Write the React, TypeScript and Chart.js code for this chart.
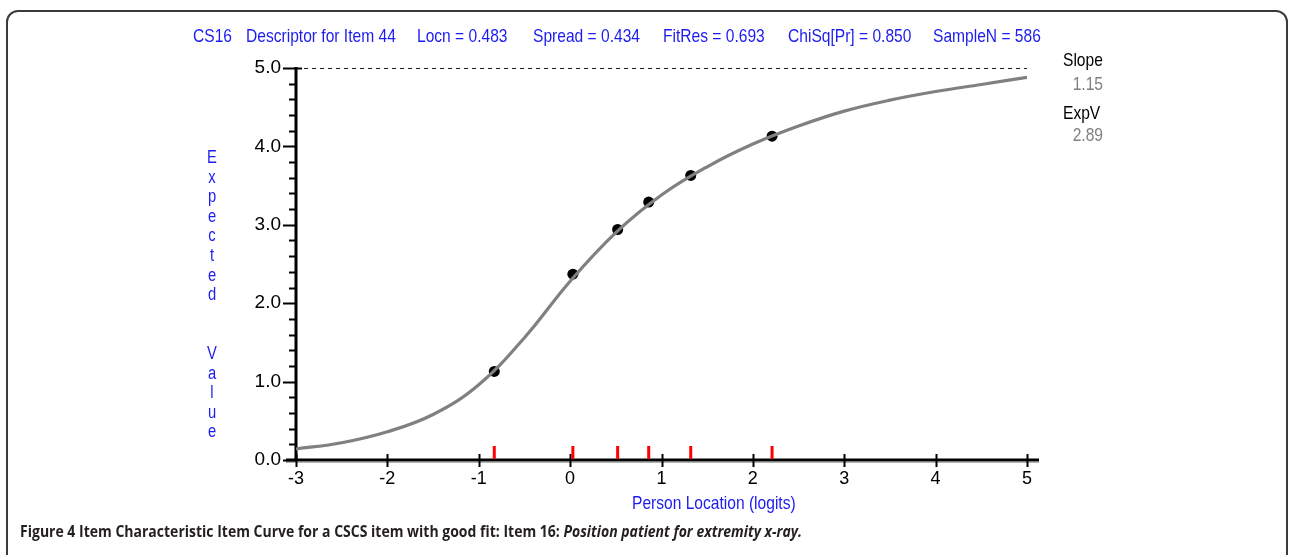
import React, { useEffect, useRef } from "react";
import { Chart, registerables } from "chart.js";

Chart.register(...registerables);

// ---- data ----
const curveX = [-3, -2.5, -2, -1.5, -1, -0.5, 0, 0.5, 1, 1.5, 2, 2.5, 3, 3.5, 4, 4.5, 5];
const curveY = [0.14, 0.22, 0.36, 0.58, 0.96, 1.56, 2.28, 2.9, 3.38, 3.74, 4.03, 4.26, 4.45, 4.59, 4.7, 4.79, 4.88];

const obsX = [-0.83, 0.03, 0.52, 0.86, 1.32, 2.21];
const obsY = [1.13, 2.37, 2.94, 3.29, 3.63, 4.13];

const xTicks = [-3, -2, -1, 0, 1, 2, 3, 4, 5];
const yMajorTicks = [0, 1, 2, 3, 4, 5];
const yMinorTicks = [0.2, 0.4, 0.6, 0.8, 1.2, 1.4, 1.6, 1.8, 2.2, 2.4, 2.6, 2.8, 3.2, 3.4, 3.6, 3.8, 4.2, 4.4, 4.6, 4.8];
const maxScore = 5;

const titleParts = [
  "CS16",
  "Descriptor for Item 44",
  "Locn = 0.483",
  "Spread = 0.434",
  "FitRes = 0.693",
  "ChiSq[Pr] = 0.850",
  "SampleN = 586",
];
const titleLefts = [193, 246, 417, 533, 663, 788, 933];

const yTitle = "Expected  Value";
const xTitle = "Person Location (logits)";
const slopeLabel = "Slope";
const slopeValue = "1.15";
const expLabel = "ExpV";
const expValue = "2.89";

const NARROW = "'Liberation Sans Narrow', 'Arial Narrow', 'Liberation Sans', sans-serif";
const BLUE = "#1c1cf0";
const SQUEEZE = 0.82;

const axesPlugin = {
  id: "rummAxes",
  beforeDatasetsDraw(chart: any) {
    const { ctx, chartArea, scales } = chart;
    const x = scales.x;
    const y = scales.y;
    ctx.save();
    ctx.strokeStyle = "#b0b0b0";
    ctx.lineWidth = 1;
    ctx.beginPath();
    ctx.moveTo(chartArea.left - 10, chartArea.bottom + 2.5);
    ctx.lineTo(chartArea.right + 12, chartArea.bottom + 2.5);
    ctx.stroke();
    ctx.strokeStyle = "#000";
    ctx.lineWidth = 3;
    ctx.beginPath();
    ctx.moveTo(chartArea.left - 10, chartArea.bottom);
    ctx.lineTo(chartArea.right + 12, chartArea.bottom);
    ctx.stroke();
    ctx.beginPath();
    ctx.moveTo(chartArea.left, chartArea.bottom);
    ctx.lineTo(chartArea.left, y.getPixelForValue(maxScore) - 1);
    ctx.stroke();
    ctx.lineWidth = 2;
    for (const v of yMinorTicks) {
      const p = Math.round(y.getPixelForValue(v)) + 0.5;
      ctx.beginPath();
      ctx.moveTo(chartArea.left - 7, p);
      ctx.lineTo(chartArea.left, p);
      ctx.stroke();
    }
    for (const v of yMajorTicks) {
      const p = Math.round(y.getPixelForValue(v)) + 0.5;
      ctx.beginPath();
      ctx.moveTo(chartArea.left - 13, p);
      ctx.lineTo(chartArea.left + (v === maxScore ? 6 : 0), p);
      ctx.stroke();
    }
    for (const v of xTicks) {
      const p = Math.round(x.getPixelForValue(v)) + 0.5;
      ctx.beginPath();
      ctx.moveTo(p, chartArea.bottom - 6);
      ctx.lineTo(p, chartArea.bottom + 7);
      ctx.stroke();
    }
    ctx.strokeStyle = "#ff0000";
    ctx.lineWidth = 3;
    for (const v of obsX) {
      const p = x.getPixelForValue(v);
      ctx.beginPath();
      ctx.moveTo(p, chartArea.bottom - 14);
      ctx.lineTo(p, chartArea.bottom - 1);
      ctx.stroke();
    }
    ctx.restore();
  },
};

function ChartCanvas() {
  const ref = useRef<HTMLCanvasElement | null>(null);
  useEffect(() => {
    if (!ref.current) return;
    const chart = new Chart(ref.current, {
      type: "line",
      data: {
        datasets: [
          {
            label: "max",
            data: [
              { x: xTicks[0], y: maxScore },
              { x: xTicks[xTicks.length - 1], y: maxScore },
            ],
            borderColor: "#000",
            borderWidth: 1.8,
            borderDash: [4, 4],
            pointRadius: 0,
          },
          {
            label: "ICC",
            data: curveX.map((v, i) => ({ x: v, y: curveY[i] })),
            borderColor: "#808080",
            borderWidth: 3.2,
            tension: 0.4,
            pointRadius: 0,
          },
          {
            label: "obs",
            data: obsX.map((v, i) => ({ x: v, y: obsY[i] })),
            showLine: false,
            pointRadius: 5.5,
            pointBackgroundColor: "#000",
            pointBorderColor: "#000",
            pointBorderWidth: 0,
          },
        ] as any,
      },
      options: {
        animation: false,
        responsive: false,
        devicePixelRatio: 1,
        layout: { padding: { left: 0, right: 262, top: 68, bottom: 65 } },
        plugins: { legend: { display: false }, title: { display: false }, tooltip: { enabled: false } },
        scales: {
          x: {
            type: "linear",
            min: -3,
            max: 5,
            afterFit: (s: any) => {
              s.height = 30;
            },
            afterBuildTicks: (s: any) => {
              s.ticks = xTicks.map((v) => ({ value: v }));
            },
            ticks: {
              color: "#000",
              font: { family: NARROW, size: 18 },
              padding: 8,
              callback: (v: any) => String(v),
            },
            grid: { drawOnChartArea: false, drawTicks: false },
            border: { display: false },
          },
          y: {
            type: "linear",
            min: 0,
            max: 5,
            afterFit: (s: any) => {
              s.width = 296;
            },
            afterBuildTicks: (s: any) => {
              s.ticks = yMajorTicks.map((v) => ({ value: v }));
            },
            ticks: {
              color: "#000",
              font: { family: NARROW, size: 19 },
              padding: 15,
              callback: (v: any) => Number(v).toFixed(1),
            },
            grid: { drawOnChartArea: false, drawTicks: false },
            border: { display: false },
          },
        },
      } as any,
      plugins: [axesPlugin],
    });
    return () => chart.destroy();
  }, []);
  return (
    <canvas
      ref={ref}
      width={1289}
      height={555}
      style={{ position: "absolute", left: 0, top: 0, width: 1289, height: 555 }}
    />
  );
}

export default function App() {
  const txt: React.CSSProperties = {
    position: "absolute",
    fontFamily: NARROW,
    fontSize: 19,
    lineHeight: "19px",
    whiteSpace: "pre",
    transform: `scaleX(${SQUEEZE})`,
    transformOrigin: "left top",
  };
  const txtR: React.CSSProperties = { ...txt, transformOrigin: "right top", textAlign: "right" };
  return (
    <div
      style={{
        position: "fixed",
        left: 0,
        top: 0,
        width: 1289,
        height: 555,
        background: "#fff",
        overflow: "hidden",
      }}
    >
      <div
        style={{
          position: "absolute",
          left: 6,
          top: 10,
          width: 1282,
          height: 600,
          border: "2px solid #3a3a3a",
          borderRadius: "12px 12px 0 0",
          boxSizing: "border-box",
        }}
      />
      <ChartCanvas />
      {titleParts.map((t, i) => (
        <div key={i} style={{ ...txt, left: titleLefts[i], top: 26, color: BLUE }}>
          {t}
        </div>
      ))}
      <div style={{ position: "absolute", left: 202, top: 148, width: 20, color: BLUE, fontFamily: NARROW, fontSize: 18 }}>
        {yTitle.split("").map((c, i) => (
          <div
            key={i}
            style={{ height: 19.6, lineHeight: "19.6px", textAlign: "center", transform: `scaleX(${SQUEEZE})` }}
          >
            {c === " " ? "\u00a0" : c}
          </div>
        ))}
      </div>
      <div style={{ ...txt, left: 632, top: 493, color: BLUE }}>{xTitle}</div>
      <div style={{ ...txt, left: 1063, top: 50, color: "#000" }}>{slopeLabel}</div>
      <div style={{ ...txtR, right: 186, top: 74, color: "#808080" }}>{slopeValue}</div>
      <div style={{ ...txt, left: 1063, top: 103, color: "#000" }}>{expLabel}</div>
      <div style={{ ...txtR, right: 186, top: 125, color: "#808080" }}>{expValue}</div>
      <div
        style={{
          position: "absolute",
          left: 20,
          top: 520,
          whiteSpace: "nowrap",
          fontFamily: "'Open Sans', 'Noto Sans', sans-serif",
          fontSize: 16.5,
          lineHeight: "22px",
          color: "#231f20",
          fontWeight: 700,
          transform: "scaleX(0.849)",
          transformOrigin: "left top",
        }}
      >
        Figure 4 Item Characteristic Item Curve for a CSCS item with good fit: Item 16:{" "}
        <i>Position patient for extremity x-ray.</i>
      </div>
    </div>
  );
}
